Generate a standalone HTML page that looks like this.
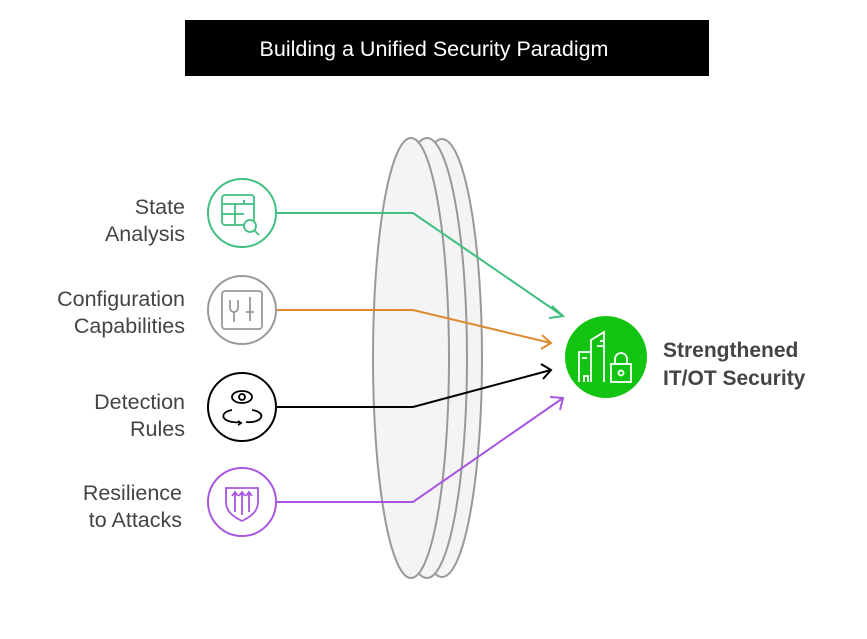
<!DOCTYPE html>
<html><head><meta charset="utf-8"><style>
body{margin:0;width:867px;height:634px;background:#fff;overflow:hidden;font-family:"Liberation Sans",sans-serif}
</style></head><body>
<svg width="867" height="634" viewBox="0 0 867 634" xmlns="http://www.w3.org/2000/svg" font-family="Liberation Sans, sans-serif">
<rect x="185" y="20" width="524" height="56" fill="#000"/>
<text x="434" y="56" fill="#fff" font-size="21.5" text-anchor="middle">Building a Unified Security Paradigm</text>
<g fill="#f4f4f4" stroke="#999" stroke-width="2">
<ellipse cx="442" cy="358" rx="40" ry="219"/>
<ellipse cx="427" cy="358" rx="40" ry="220"/>
<ellipse cx="411" cy="358" rx="38" ry="220"/>
</g>
<g fill="none" stroke-width="2">
<path d="M277 213 H413 L563 316" stroke="#3fbf80"/>
<path d="M552 306 L563 316 L549 318" stroke="#3fbf80"/>
<path d="M277 310 H413 L551 343" stroke="#e08a2e"/>
<path d="M542 335 L551 343 L541 349" stroke="#e08a2e"/>
<path d="M277 407 H413 L551 370" stroke="#000"/>
<path d="M541 364 L551 370 L543 379" stroke="#000"/>
<path d="M277 502 H413 L563 398" stroke="#a855e0"/>
<path d="M550 397 L563 398 L560 410" stroke="#a855e0"/>
<circle cx="242" cy="213" r="34" stroke="#3fbf80" fill="#fff"/>
<circle cx="242" cy="310" r="34" stroke="#999" fill="#fff"/>
<circle cx="242" cy="407" r="34" stroke="#000" fill="#fff"/>
<circle cx="242" cy="502" r="34" stroke="#a855e0" fill="#fff"/>
</g>
<g fill="none" stroke-width="1.8">
<g stroke="#3fbf80"><rect x="222" y="195" width="32" height="30" rx="3"/><path d="M222 204H254M222 214H244M235 204V225M244 200V204"/><circle cx="250" cy="226" r="6" fill="#fff"/><path d="M254 230L259 235"/></g>
<g stroke="#999"><rect x="222" y="291" width="40" height="38" rx="3"/><path d="M230 300v8a4 4 0 0 0 8 0v-8M234 312v10M250 297v24M246 312h8"/></g>
<g stroke="#000"><ellipse cx="242" cy="397" rx="10" ry="6"/><circle cx="242" cy="397" r="3"/><path d="M232 410a12 6 0 0 0 8 12M252 410a12 6 0 0 1-6 12M238 421l3 2-3 2"/></g>
<g stroke="#a855e0"><path d="M226 488h32v14c0 10-8 15-16 19-8-4-16-9-16-19z"/><path d="M235 512V492M242 515V492M249 512V492M232 496l3-4 3 4M239 496l3-4 3 4M246 496l3-4 3 4"/></g>
</g>
<circle cx="606" cy="357" r="41" fill="#13c413"/>
<g fill="none" stroke="#fff" stroke-width="1.8">
<path d="M579 382V352h12v30M582 358h5M584 382v-6h4v6M591 382V340l13-8v50M597 346h6M600 341h4M604 336v-2"/>
<rect x="611" y="364" width="20" height="18"/><path d="M615 364v-5a6 6 0 0 1 12 0v5"/><circle cx="621" cy="373" r="2.5"/>
</g>
<g fill="#444" font-size="21.5" text-anchor="end">
<text x="185" y="214">State</text><text x="185" y="241">Analysis</text>
<text x="185" y="306">Configuration</text><text x="185" y="333">Capabilities</text>
<text x="185" y="409">Detection</text><text x="185" y="436">Rules</text>
<text x="182" y="500">Resilience</text><text x="182" y="527">to Attacks</text>
</g>
<g fill="#444" font-size="21" font-weight="bold">
<text x="663" y="357">Strengthened</text><text x="663" y="385">IT/OT Security</text>
</g>
</svg>
</body></html>
